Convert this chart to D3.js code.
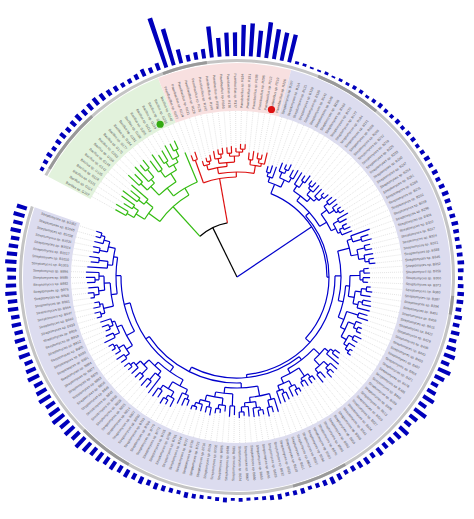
<!DOCTYPE html>
<html><head><meta charset="utf-8">
<script src="https://cdn.jsdelivr.net/npm/d3@7"></script>
<style>body{margin:0;background:#fff}</style></head>
<body><svg id="c" width="474" height="519"></svg>
<script>
// ---- data ----
const greenTree = "((((a:12,a:14):8,(a:10,a:16):6):10,((a:18,a:12):7,a:22):9):14,((((a:15,a:11):9,(a:20,(a:8,a:10):10):5):12,((a:14,a:18):8,((a:10,a:12):6,(a:16,(a:8,a:9):7):5):6):10):10,a:32):8)";
const redTree = "((a:6,a:8):24,(((a:5,(a:4,a:6):3):5,((a:8,(a:5,a:6):4):5,((a:6,a:7):3,(a:4,(a:5,a:5):3):4):6):4):6,((a:7,a:9):5,((a:6,a:5):4,a:12):3):8):5)";
const blueSub = {
 A:"(((a:6,a:8):4,a:12):5,((a:9,(a:5,a:7):4):6,(a:8,a:10):5):8)",
 B:"((a:14,(a:6,a:9):7):6,(((a:5,a:6):3,a:9):6,(a:10,(a:4,a:6):5):4):5)",
 C:"(((a:7,a:9):5,(a:6,(a:4,a:5):3):6):7,((a:12,a:8):6,((a:5,a:7):4,a:11):3):5)",
 D:"((a:20,(a:8,a:10):9):5,((a:6,a:7):8,(a:9,(a:5,a:6):4):6):7)",
 E:"(((a:5,a:6):4,(a:7,a:5):3):10,(((a:4,a:6):5,a:10):6,((a:8,a:9):4,a:13):5):6)",
 F:"((a:9,a:11):12,((a:6,(a:4,a:5):4):7,((a:8,a:6):5,(a:7,(a:3,a:4):4):4):6):5)",
 G:"(((a:6,a:8):4,a:16):5,((a:9,(a:5,a:7):4):6,(a:8,a:10):5):8)",
 H:"(((a:5,a:6):4,(a:7,a:5):3):10,(((a:4,a:6):5,a:10):6,((a:8,a:9):4,a:13):5):6)",
 I:"((a:14,(a:6,a:9):7):6,(((a:5,a:6):3,a:9):6,(a:10,(a:4,a:6):5):4):5)",
 J:"((a:9,a:11):12,((a:6,(a:4,a:5):4):7,((a:8,a:6):5,(a:7,(a:3,a:4):4):4):6):5)",
 K:"(((a:6,a:8):4,a:12):5,((a:9,(a:5,a:7):4):6,(a:8,a:10):5):8)",
 L:"((a:20,(a:8,a:10):9):5,((a:6,a:7):8,(a:9,(a:5,a:6):4):6):7)",
 M:"(((a:7,a:9):5,(a:6,(a:4,a:5):3):6):7,((a:12,a:8):6,((a:5,a:7):4,a:11):3):5)",
 N:"(((a:5,a:6):4,(a:7,a:5):3):10,(((a:4,a:6):5,a:10):6,((a:8,a:9):4,a:13):5):6)",
 O:"((a:20,(a:8,a:10):9):5,((a:6,a:7):8,(a:9,(a:5,a:6):4):6):7)"
};
const blueFrame = "(A:10,((B:6,C:8):5,((D:12,(E:4,F:6):5):6,((G:8,H:5):4,((I:10,J:6):5,((K:7,L:5):6,(M:9,(N:6,O:4):5):6):4):5):3):6):2)";
const stems = {gr:55, green:40, red:45, blue:90};
const greenBars = [4,5,6,5,6,7,6,7,8,7,8,9,8,7,6,5,5,6,8,6];
const redBars = [8,55,40,15,7,8,10,33,20,25,25,33,35,28,38,32,30,30];
const blueBars = [3,3,2,2,3,2,3,3,4,4,3,4,5,4,4,5,4,5,5,4,
 5,6,5,6,5,6,7,6,5,6,7,6,5,6,6,7,6,5,6,7,
 7,6,8,7,9,8,10,12,9,14,11,8,10,13,9,15,10,8,12,9,
 8,7,9,6,8,7,6,5,7,8,6,5,4,6,5,4,6,5,4,3,
 3,4,3,5,4,3,4,5,6,4,5,6,7,6,8,7,9,8,10,9,
 11,10,12,14,11,13,12,15,13,11,14,12,10,13,11,9,12,10,11,9,
 10,9,11,10,12,11,9,10,12,11,10,9,11,10,12,11,9,10];
const genera = {green:"Bacillus", red:"Paenibacillus", blue:"Streptomyces"};
const cladeColors = {green:"#33bb11", red:"#dd1111", blue:"#0000cc", root:"#000"};
const bandColors = {green:"#e2f2dc", red:"#f8e0e0", blue:"#dcdcef"};
const markers = [{leaf:17,color:"#33aa11"},{leaf:36,color:"#dd1111"}];

// ---- parse ----
function parse(s){let i=0;
 function node(){const n={children:[]};
  if(s[i]==="("){i++;n.children.push(node());while(s[i]===","){i++;n.children.push(node());}i++;}
  let name="";while(i<s.length&&!":,()".includes(s[i]))name+=s[i++];n.name=name;
  n.len=0;if(s[i]===":"){i++;let t="";while(i<s.length&&!",()".includes(s[i]))t+=s[i++];n.len=+t;}
  if(!n.children.length)delete n.children;return n;}
 return node();}
let bStr=blueFrame.replace(/[A-O]/g,k=>blueSub[k]);
const green=parse(greenTree),red=parse(redTree),blue=parse(bStr);
green.len=stems.green;red.len=stems.red;blue.len=stems.blue;
const gr={children:[green,red],len:stems.gr};
const root={children:[gr,blue],len:0};
function tag(n,c){n.clade=c;(n.children||[]).forEach(ch=>tag(ch,c));}
tag(green,"green");tag(red,"red");tag(blue,"blue");root.clade="root";gr.clade="root";
const leaves=[];
function walk(n,d){n.r=d+n.len;if(n.children)n.children.forEach(c=>walk(c,n.r));else leaves.push(n);}
walk(root,0);
const bars=greenBars.concat(redBars,blueBars);
const start=299,end=648,N=leaves.length,step=(end-start)/(N-1);
const ang=d3.scaleLinear().domain([0,N-1]).range([start,end]);
leaves.forEach((l,i)=>{l.a=ang(i);l.idx=i;l.val=bars[i]||3;});
function setA(n){if(n.children){n.children.forEach(setA);n.a=d3.mean(n.children,c=>c.a);}}
setA(root);
const cnt={green:0,red:0,blue:0};
leaves.forEach(l=>{cnt[l.clade]++;l.name=genera[l.clade]+" sp. "+l.clade[0].toUpperCase()+(100+cnt[l.clade]*7);});

// ---- draw ----
const cx=237,cy=277,R0=166,R1=214,ring=[215,218],barIn=221;
const svg=d3.select("#c").append("g").attr("transform",`translate(${cx},${cy})`);
const rad=d=>d*Math.PI/180;
const P=(a,r)=>[r*Math.sin(rad(a)),-r*Math.cos(rad(a))];
const arc=d3.arc();
const h=step/2;
["green","red","blue"].forEach(c=>{const ls=leaves.filter(l=>l.clade===c);
 svg.append("path").attr("fill",bandColors[c]).attr("d",arc({innerRadius:R0,outerRadius:R1,startAngle:rad(ls[0].a-h),endAngle:rad(ls[ls.length-1].a+h)}));});
svg.append("path").attr("fill","#c4c4c4").attr("d",arc({innerRadius:ring[0],outerRadius:ring[1],startAngle:rad(start-h),endAngle:rad(end+h)}));
[[340,352],[22,40],[95,100],[150,165],[210,225],[300,318]].forEach(s=>svg.append("path").attr("fill","#999").attr("d",arc({innerRadius:ring[0],outerRadius:ring[1],startAngle:rad(s[0]),endAngle:rad(s[1])})));
svg.append("g").selectAll("line").data(leaves).join("line")
 .attr("x1",d=>P(d.a,d.r)[0]).attr("y1",d=>P(d.a,d.r)[1]).attr("x2",d=>P(d.a,R0)[0]).attr("y2",d=>P(d.a,R0)[1])
 .attr("stroke","#bbb").attr("stroke-width",0.4).attr("stroke-dasharray","1,1");
svg.append("g").selectAll("text").data(leaves).join("text")
 .attr("transform",d=>{const a=((d.a%360)+360)%360;return a>180?`rotate(${d.a+90})`:`rotate(${d.a-90})`;})
 .attr("x",d=>{const a=((d.a%360)+360)%360;return a>180?-(R0+3):(R0+3);})
 .attr("text-anchor",d=>{const a=((d.a%360)+360)%360;return a>180?"end":"start";})
 .attr("dy","0.35em").attr("font-size",3.4).attr("font-family","Liberation Sans, Arial").attr("fill","#555")
 .text(d=>d.name);
const barScale=d3.scaleLinear().domain([0,55]).range([0,52]);
svg.append("g").selectAll("path").data(leaves).join("path").attr("fill","#0000bb")
 .attr("d",d=>arc({innerRadius:barIn,outerRadius:barIn+barScale(d.val),startAngle:rad(d.a-h*0.5),endAngle:rad(d.a+h*0.5)}));
const tg=svg.append("g").attr("fill","none").attr("stroke-width",1.2);
function drawN(n){if(!n.children)return;
 const as=n.children.map(c=>c.a),a0=d3.min(as),a1=d3.max(as);
 const col=n.clade==="root"?cladeColors.root:cladeColors[n.clade];
 tg.append("path").attr("stroke",col).attr("d",d3.arc()({innerRadius:n.r,outerRadius:n.r,startAngle:rad(a0),endAngle:rad(a1)}));
 n.children.forEach(c=>{const p0=P(c.a,n.r),p1=P(c.a,c.r);
  tg.append("line").attr("stroke",cladeColors[c.clade]).attr("x1",p0[0]).attr("y1",p0[1]).attr("x2",p1[0]).attr("y2",p1[1]);
  drawN(c);});}
drawN(root);
markers.forEach(m=>{const l=leaves[m.leaf],p=P(l.a,R0+5);svg.append("circle").attr("cx",p[0]).attr("cy",p[1]).attr("r",3.6).attr("fill",m.color);});
</script></body></html>
